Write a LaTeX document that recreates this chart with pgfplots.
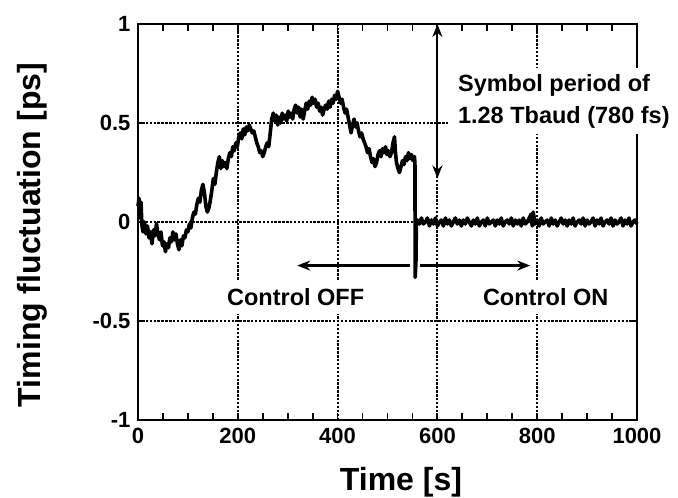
\documentclass[border=0pt]{standalone}
\usepackage{fontspec}
\setmainfont{Liberation Sans}
\usepackage{pgfplots}
\pgfplotsset{compat=1.18}
\usetikzlibrary{arrows.meta}
\begin{document}
\begin{tikzpicture}
\begin{axis}[
  name=ax,
  scale only axis, width=499pt, height=396pt,
  xmin=0, xmax=1000, ymin=-1, ymax=1,
  xtick={0,200,...,1000}, ytick={-1,-0.5,0,0.5,1},
  xticklabels={0,200,400,600,800,1000},
  yticklabels={-1,-0.5,0,0.5,1},
  minor x tick num=3,
  tick align=inside,
  major tick length=7pt, minor tick length=7pt,
  tick style={black, line width=1.8pt},
  axis line style={line width=2.6pt},
  grid=major,
  major grid style={black, line width=1.9pt, dash pattern=on 2.4pt off 1.5pt},
  clip=false,
  ticklabel style={font=\fontsize{22}{26}\selectfont\bfseries},
  xticklabel style={yshift=-5pt},
  yticklabel style={xshift=-4pt},
  xlabel={Time [s]},
  ylabel={Timing fluctuation [ps]},
  xlabel style={font=\fontsize{32}{36}\selectfont\bfseries, at={(axis description cs:0.527,-0.177)}, anchor=base},
  ylabel style={font=\fontsize{32}{36}\selectfont\bfseries, at={(axis description cs:-0.2124,0.467)}, anchor=center},
]
\addplot[black, line width=3.6pt, line join=round] coordinates {
(0,0.08) (2,0.12) (4,0.02) (6,0.10) (8,-0.02) (10,-0.05) (13,0.00) (16,-0.06) (19,-0.02) (22,-0.08) (25,-0.05) (28,-0.11) (31,-0.04) (34,-0.07) (37,-0.01) (40,-0.06) (43,-0.09) (46,-0.05) (49,-0.12) (52,-0.10) (55,-0.15) (58,-0.11) (61,-0.13) (64,-0.08) (67,-0.10) (70,-0.05) (73,-0.09) (76,-0.06) (79,-0.11) (82,-0.14) (85,-0.09) (88,-0.12) (91,-0.07) (94,-0.08) (97,-0.04) (100,-0.05) (103,-0.01) (106,-0.03) (109,0.02) (112,0.05) (115,0.04) (118,0.09) (121,0.12) (124,0.10) (127,0.16) (130,0.19) (133,0.15) (136,0.08) (139,0.05) (142,0.07) (145,0.11) (148,0.16) (151,0.22) (154,0.19) (157,0.25) (160,0.30) (163,0.33) (166,0.27) (169,0.31) (172,0.28) (175,0.30) (178,0.27) (181,0.32) (184,0.35) (187,0.33) (190,0.38) (193,0.36) (196,0.40) (199,0.38) (202,0.43) (205,0.45) (208,0.42) (211,0.47) (214,0.44) (217,0.48) (220,0.46) (223,0.49) (226,0.47) (229,0.45) (232,0.46) (235,0.43) (238,0.40) (241,0.38) (244,0.35) (247,0.36) (250,0.33) (253,0.35) (256,0.38) (259,0.40) (262,0.38) (265,0.45) (268,0.52) (271,0.55) (274,0.51) (277,0.54) (280,0.49) (283,0.53) (286,0.50) (289,0.55) (292,0.52) (295,0.54) (298,0.51) (301,0.56) (304,0.53) (307,0.55) (310,0.52) (313,0.57) (316,0.59) (319,0.55) (322,0.58) (325,0.53) (328,0.57) (331,0.52) (334,0.56) (337,0.60) (340,0.57) (343,0.61) (346,0.59) (349,0.63) (352,0.60) (355,0.62) (358,0.58) (361,0.60) (364,0.56) (367,0.58) (370,0.54) (373,0.57) (376,0.59) (379,0.57) (382,0.61) (385,0.58) (388,0.62) (391,0.60) (394,0.64) (397,0.62) (400,0.66) (403,0.63) (406,0.60) (409,0.62) (412,0.58) (415,0.55) (418,0.57) (421,0.53) (424,0.49) (427,0.45) (430,0.49) (433,0.52) (436,0.48) (439,0.50) (442,0.46) (445,0.43) (448,0.45) (451,0.42) (454,0.40) (457,0.38) (460,0.35) (463,0.37) (466,0.33) (469,0.30) (472,0.32) (475,0.28) (478,0.30) (481,0.34) (484,0.36) (487,0.33) (490,0.37) (493,0.35) (496,0.38) (499,0.34) (502,0.36) (505,0.33) (508,0.35) (511,0.40) (514,0.43) (516,0.35) (518,0.30) (521,0.27) (524,0.25) (527,0.28) (530,0.31) (533,0.29) (536,0.33) (539,0.31) (542,0.35) (545,0.32) (548,0.34) (551,0.31) (554,0.33) (555,0.30) (555.5,-0.28) (557,-0.20) (558,0.00)
(560,0.01) (564,-0.01) (568,0.02) (572,-0.01) (576,0.00) (580,0.02) (584,-0.02) (588,0.01) (592,-0.01) (596,0.02) (600,-0.02) (604,0.00) (608,0.01) (612,-0.02) (616,0.02) (620,-0.01) (624,0.01) (628,-0.02) (632,0.00) (636,0.02) (640,-0.01) (644,0.01) (648,-0.02) (652,0.01) (656,-0.01) (660,0.02) (664,0.00) (668,-0.02) (672,0.01) (676,-0.01) (680,0.02) (684,-0.02) (688,0.00) (692,0.01) (696,-0.02) (700,0.02) (704,-0.01) (708,0.00) (712,0.01) (716,-0.02) (720,0.01) (724,-0.01) (728,0.02) (732,-0.02) (736,0.00) (740,0.01) (744,-0.01) (748,0.02) (752,-0.02) (756,0.01) (760,-0.01) (764,0.01) (768,-0.02) (772,0.02) (776,-0.01) (780,0.00) (784,0.02) (788,0.04) (790,-0.02) (792,0.05) (796,-0.01) (800,0.01) (804,-0.02) (808,0.02) (812,-0.01) (816,0.00) (820,0.01) (824,-0.02) (828,0.02) (832,-0.01) (836,0.01) (840,-0.02) (844,0.00) (848,0.02) (852,-0.01) (856,0.01) (860,-0.02) (864,0.01) (868,-0.01) (872,0.02) (876,-0.02) (880,0.00) (884,0.01) (888,-0.01) (892,0.02) (896,-0.02) (900,0.01) (904,-0.01) (908,0.00) (912,0.02) (916,-0.02) (920,0.01) (924,-0.01) (928,0.02) (932,-0.02) (936,0.00) (940,0.01) (944,-0.01) (948,0.02) (952,-0.02) (956,0.01) (960,-0.01) (964,0.00) (968,0.02) (972,-0.02) (976,0.01) (980,-0.01) (984,0.02) (988,-0.02) (992,0.00) (996,0.01) (1000,-0.01)
};
\draw[line width=2.2pt, {Stealth[length=13pt,width=10pt]}-{Stealth[length=13pt,width=10pt]}] (axis cs:600,1) -- (axis cs:600,0.22);
\draw[line width=2.2pt, -{Stealth[length=13pt,width=10pt]}] (axis cs:545,-0.22) -- (axis cs:319,-0.22);
\draw[line width=2.2pt, -{Stealth[length=13pt,width=10pt]}] (axis cs:565,-0.22) -- (axis cs:786,-0.22);
\coordinate (symb) at (axis cs:621,0.611);
\coordinate (coff) at (axis cs:316,-0.38);
\coordinate (con) at (axis cs:817,-0.38);
\end{axis}
\node[fill=white, inner sep=6pt, font=\fontsize{23.5}{32}\selectfont\bfseries, align=left, anchor=west, inner xsep=10pt] at (symb) {Symbol period of\\1.28 Tbaud (780 fs)};
\node[fill=white, inner sep=8pt, font=\fontsize{23.5}{28}\selectfont\bfseries] at (coff) {Control OFF};
\node[fill=white, inner sep=8pt, font=\fontsize{23.5}{28}\selectfont\bfseries] at (con) {Control ON};
\pgfresetboundingbox
\path ([shift={(-138pt,-78pt)}]ax.south west) rectangle ([shift={(41pt,24pt)}]ax.north east);
\end{tikzpicture}
\end{document}
